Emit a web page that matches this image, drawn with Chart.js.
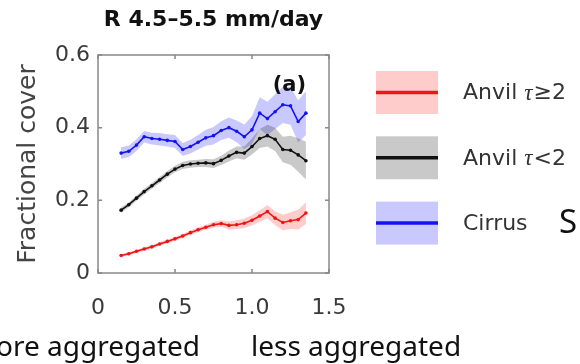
<!DOCTYPE html>
<html>
<head>
<meta charset="utf-8">
<script src="https://cdn.jsdelivr.net/npm/chart.js@4.4.1/dist/chart.umd.min.js"></script>
<style>
html,body{margin:0;padding:0;background:#fff;}
canvas{display:block;}
</style>
</head>
<body>
<canvas id="chart" width="580" height="364"></canvas>
<script>

// aggregation index (bin centres)
const binCenters = [0.15,0.20,0.25,0.30,0.35,0.40,0.45,0.50,0.55,0.60,0.65,0.70,0.75,0.80,0.85,0.90,0.95,1.00,1.05,1.10,1.15,1.20,1.25,1.30,1.35];

// mean fractional cover and spread for each cloud class
const anvilThick = [0.048,0.053,0.060,0.066,0.072,0.080,0.087,0.094,0.102,0.111,0.119,0.126,0.133,0.136,0.131,0.133,0.137,0.145,0.157,0.169,0.151,0.139,0.144,0.147,0.165];
const anvilThickErr = [0.004,0.004,0.004,0.005,0.005,0.005,0.005,0.006,0.006,0.006,0.007,0.007,0.008,0.009,0.011,0.012,0.013,0.014,0.016,0.018,0.019,0.021,0.023,0.027,0.030];

const anvilThin = [0.173,0.188,0.206,0.224,0.240,0.256,0.272,0.286,0.296,0.300,0.302,0.303,0.301,0.310,0.322,0.332,0.330,0.348,0.370,0.378,0.368,0.340,0.338,0.325,0.309];
const anvilThinErr = [0.007,0.007,0.007,0.008,0.008,0.008,0.009,0.009,0.010,0.010,0.010,0.011,0.012,0.013,0.015,0.016,0.018,0.022,0.026,0.030,0.032,0.035,0.040,0.046,0.052];

const cirrus = [0.330,0.335,0.352,0.375,0.370,0.368,0.365,0.362,0.340,0.348,0.360,0.372,0.378,0.392,0.400,0.390,0.375,0.394,0.440,0.425,0.444,0.463,0.460,0.417,0.440];
const cirrusErr = [0.016,0.016,0.016,0.016,0.016,0.017,0.017,0.018,0.018,0.019,0.020,0.022,0.024,0.026,0.028,0.030,0.034,0.038,0.044,0.046,0.048,0.050,0.052,0.058,0.060];

const xTickValues = [0, 0.5, 1, 1.5];
const yTickValues = [0, 0.2, 0.4, 0.6];

const seriesNames = ["Anvil τ≥2", "Anvil τ<2", "Cirrus"];
const lineColors = ["#f01414", "#111111", "#1414f0"];
const bandColors = ["rgba(255,0,0,0.2)", "rgba(0,0,0,0.21)", "rgba(0,0,255,0.21)"];

const means = [anvilThick, anvilThin, cirrus];
const spreads = [anvilThickErr, anvilThinErr, cirrusErr];

function pts(vals){
  return binCenters.map((x,i)=>({x:x, y:vals[i]}));
}

const datasets = [];
means.forEach((m,k)=>{
  const s = spreads[k];
  datasets.push({
    label: seriesNames[k] + " upper",
    data: pts(m.map((v,i)=>v + s[i])),
    fill: "+1",
    backgroundColor: bandColors[k],
    borderWidth: 0,
    pointRadius: 0,
    order: 2
  });
  datasets.push({
    label: seriesNames[k] + " lower",
    data: pts(m.map((v,i)=>v - s[i])),
    fill: false,
    borderWidth: 0,
    pointRadius: 0,
    order: 2
  });
  datasets.push({
    label: seriesNames[k],
    data: pts(m),
    borderColor: lineColors[k],
    backgroundColor: lineColors[k],
    borderWidth: 1.6,
    pointRadius: 1.8,
    pointBorderWidth: 0,
    fill: false,
    order: 1
  });
});

// draws one legend label, with tau set in italic serif
function drawLabel(ctx, text, x, y){
  let cx = x;
  text.split(/(τ)/).forEach(part=>{
    if(!part) return;
    ctx.font = part === "τ" ? "italic 23px 'Liberation Serif'" : "22px 'DejaVu Sans'";
    ctx.fillText(part, cx, y);
    cx += ctx.measureText(part).width + (part === "τ" ? 1 : 0);
  });
}

const panelDecor = {
  id: "panelDecor",
  afterDatasetsDraw(chart){
    const {ctx, chartArea: a, scales: {x, y}} = chart;
    ctx.save();
    ctx.strokeStyle = "#888";
    ctx.lineWidth = 1.5;
    ctx.strokeRect(a.left, a.top, a.right - a.left, a.bottom - a.top);
    ctx.beginPath();
    x.ticks.forEach(t=>{
      const px = x.getPixelForValue(t.value);
      ctx.moveTo(px, a.bottom); ctx.lineTo(px, a.bottom - 4);
      ctx.moveTo(px, a.top); ctx.lineTo(px, a.top + 4);
    });
    y.ticks.forEach(t=>{
      const py = y.getPixelForValue(t.value);
      ctx.moveTo(a.left, py); ctx.lineTo(a.left + 4, py);
      ctx.moveTo(a.right, py); ctx.lineTo(a.right - 4, py);
    });
    ctx.stroke();

    // panel letter
    ctx.fillStyle = "#111";
    ctx.font = "bold 21px 'DejaVu Sans'";
    ctx.textAlign = "right";
    ctx.textBaseline = "middle";
    ctx.fillText("(a)", a.right - 23, a.top + 31);
    ctx.restore();
  },
  afterDraw(chart){
    const ctx = chart.ctx;
    ctx.save();
    // legend: shaded patch with the line through it
    seriesNames.forEach((name,k)=>{
      const cy = 92.5 + k * 65.3;
      ctx.fillStyle = bandColors[k];
      ctx.fillRect(376, cy - 21.5, 62, 43);
      ctx.strokeStyle = lineColors[k];
      ctx.lineWidth = 3.5;
      ctx.beginPath();
      ctx.moveTo(376, cy);
      ctx.lineTo(438, cy);
      ctx.stroke();
      ctx.fillStyle = "#333";
      ctx.textAlign = "left";
      ctx.textBaseline = "middle";
      drawLabel(ctx, name, 463, cy + 1);
    });

    ctx.fillStyle = "#111";
    ctx.font = "33px 'Noto Sans'";
    ctx.textBaseline = "alphabetic";
    ctx.fillText("S", 559, 233);

    ctx.font = "28px 'Noto Sans'";
    ctx.textAlign = "right";
    ctx.fillText("more aggregated", 200, 356);
    ctx.textAlign = "left";
    ctx.fillText("less aggregated", 251, 356);
    ctx.restore();
  }
};

Chart.defaults.font.family = "'DejaVu Sans'";

new Chart(document.getElementById("chart"), {
  type: "line",
  data: { datasets: datasets },
  options: {
    responsive: false,
    animation: false,
    devicePixelRatio: 1,
    layout: { padding: { top: 0, right: 251, left: 0, bottom: 0 } },
    elements: { line: { tension: 0 } },
    plugins: {
      legend: { display: false },
      tooltip: { enabled: false },
      title: {
        display: true,
        text: "R 4.5–5.5 mm/day",
        fullSize: false,
        color: "#111",
        font: { size: 22, weight: "bold" },
        padding: { top: 7, bottom: 21.6 }
      }
    },
    scales: {
      x: {
        type: "linear",
        min: 0, max: 1.5,
        afterBuildTicks: s => { s.ticks = xTickValues.map(v=>({value:v})); },
        afterFit: s => { s.height = 91; },
        grid: { display: false },
        border: { display: false },
        ticks: { color: "#3a3a3a", font: { size: 22 }, padding: 14, maxRotation: 0 }
      },
      y: {
        min: 0, max: 0.6,
        afterBuildTicks: s => { s.ticks = yTickValues.map(v=>({value:v})); },
        afterFit: s => { s.width = 98; },
        grid: { display: false },
        border: { display: false },
        ticks: { color: "#3a3a3a", font: { size: 22 }, padding: 0 },
        title: {
          display: true,
          text: "Fractional cover",
          color: "#444",
          font: { size: 25 },
          padding: { top: 13, bottom: 0 }
        }
      }
    }
  },
  plugins: [panelDecor]
});
</script>
</body>
</html>
